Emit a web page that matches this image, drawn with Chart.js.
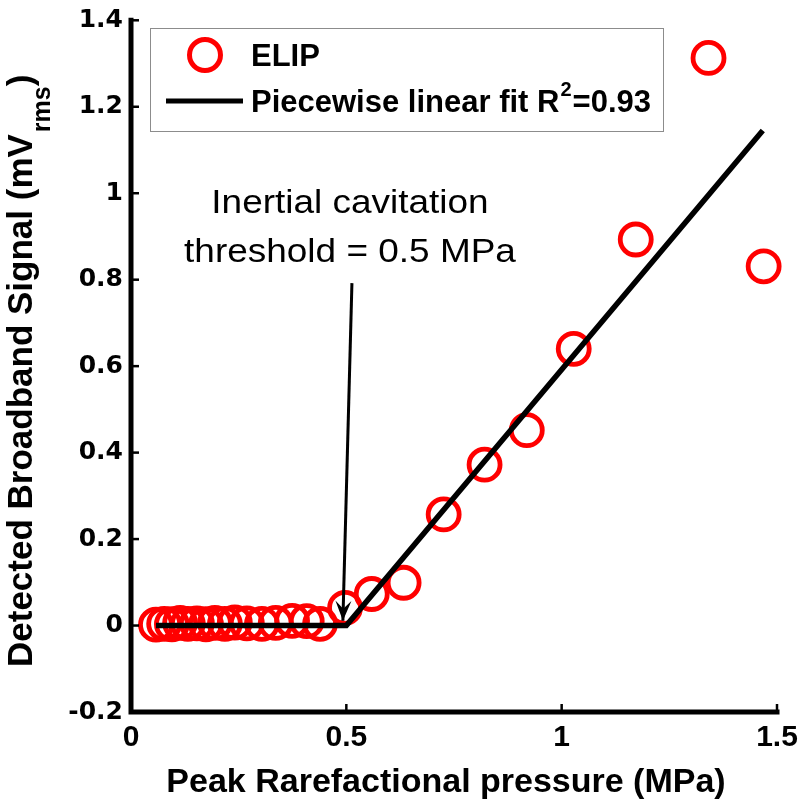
<!DOCTYPE html>
<html>
<head>
<meta charset="utf-8">
<script src="https://cdn.jsdelivr.net/npm/chart.js@4"></script>
<style>
  html, body { margin: 0; padding: 0; background: #fff; }
  #wrap { width: 800px; height: 802px; position: relative; }
</style>
</head>
<body>
<div id="wrap"><canvas id="c" width="800" height="802"></canvas></div>
<script>
// ---- data ----
const pressureMPa = [0.058, 0.077, 0.095, 0.114, 0.132, 0.153, 0.174, 0.195, 0.218, 0.241, 0.269, 0.304, 0.336, 0.374, 0.408, 0.439,
                     0.497, 0.559, 0.633, 0.726, 0.821, 0.919, 1.028, 1.172, 1.341, 1.469];
const signalMV   = [0.002, 0.004, 0.003, 0.006, 0.004, 0.005, 0.003, 0.006, 0.004, 0.007, 0.005, 0.004, 0.006, 0.011, 0.010, 0.004,
                     0.041, 0.073, 0.099, 0.257, 0.372, 0.452, 0.640, 0.893, 1.313, 0.831];
const fitX = [0.058, 0.5, 1.467];
const fitY = [0.0, 0.0, 1.145];
const xTicks = [0, 0.5, 1, 1.5];
const yTicks = [-0.2, 0, 0.2, 0.4, 0.6, 0.8, 1, 1.2, 1.4];
const seriesName = 'ELIP';
const fitName = 'Piecewise linear fit R';
const fitSup = '2';
const fitTail = '=0.93';
const xTitle = 'Peak Rarefactional pressure (MPa)';
const yTitleMain = 'Detected Broadband Signal (mV';
const yTitleSub = 'rms';
const yTitleEnd = ')';
const noteLines = ['Inertial cavitation', 'threshold = 0.5 MPa'];
const arrowFrom = [0.513, 0.792];
const arrowTo = [0.492, 0.011];

const RED = '#ff0000';
const SANS = '"Liberation Sans", Arial, Helvetica, sans-serif';

const decorPlugin = {
  id: 'decor',
  afterDraw(chart) {
    const ctx = chart.ctx;
    const xs = chart.scales.x, ys = chart.scales.y;
    const ca = chart.chartArea;
    ctx.save();
    // axis lines
    ctx.strokeStyle = '#000';
    ctx.lineWidth = 5;
    ctx.lineCap = 'square';
    ctx.beginPath();
    ctx.moveTo(ca.left, ca.top);
    ctx.lineTo(ca.left, ca.bottom);
    ctx.lineTo(ca.right, ca.bottom);
    ctx.stroke();
    ctx.lineCap = 'butt';
    // inward ticks
    ctx.lineWidth = 2.5;
    yTicks.forEach(v => {
      const y = ys.getPixelForValue(v);
      ctx.beginPath(); ctx.moveTo(ca.left, y); ctx.lineTo(ca.left + 8, y); ctx.stroke();
    });
    xTicks.forEach(v => {
      const x = xs.getPixelForValue(v);
      ctx.beginPath(); ctx.moveTo(x, ca.bottom); ctx.lineTo(x, ca.bottom - 8); ctx.stroke();
    });

    // x title
    ctx.fillStyle = '#000';
    ctx.font = 'bold 34px ' + SANS;
    ctx.textAlign = 'center';
    ctx.textBaseline = 'alphabetic';
    ctx.fillText(xTitle, (ca.left + ca.right) / 2 - 8, 792);

    // y title (rotated, with subscript)
    ctx.save();
    ctx.translate(32, 667);
    ctx.rotate(-Math.PI / 2);
    ctx.textAlign = 'left';
    ctx.font = 'bold 35px ' + SANS;
    ctx.fillText(yTitleMain, 0, 0);
    let w = ctx.measureText(yTitleMain).width;
    ctx.font = 'bold 25px ' + SANS;
    ctx.fillText(yTitleSub, w + 2, 18);
    w += 2 + ctx.measureText(yTitleSub).width;
    ctx.font = 'bold 35px ' + SANS;
    ctx.fillText(yTitleEnd, w, 0);
    ctx.restore();

    // legend box
    const lx = 150, ly = 28, lw = 513, lh = 103;
    ctx.fillStyle = '#fff';
    ctx.fillRect(lx, ly, lw, lh);
    ctx.strokeStyle = '#8c8c8c';
    ctx.lineWidth = 1;
    ctx.strokeRect(lx + 0.5, ly + 0.5, lw, lh);
    ctx.strokeStyle = RED;
    ctx.lineWidth = 5;
    ctx.beginPath(); ctx.arc(205, 55, 15.5, 0, Math.PI * 2); ctx.stroke();
    ctx.strokeStyle = '#000';
    ctx.lineWidth = 5;
    ctx.beginPath(); ctx.moveTo(166, 101); ctx.lineTo(243, 101); ctx.stroke();
    ctx.fillStyle = '#000';
    ctx.textAlign = 'left';
    ctx.textBaseline = 'alphabetic';
    ctx.font = 'bold 31px ' + SANS;
    ctx.fillText(seriesName, 251, 66);
    ctx.fillText(fitName, 251, 112);
    let fx = 251 + ctx.measureText(fitName).width + 1;
    ctx.font = 'bold 20px ' + SANS;
    ctx.fillText(fitSup, fx, 96);
    fx += ctx.measureText(fitSup).width + 1;
    ctx.font = 'bold 31px ' + SANS;
    ctx.fillText(fitTail, fx, 112);

    // annotation text
    ctx.save();
    ctx.font = '33px ' + SANS;
    ctx.textAlign = 'center';
    ctx.translate(350, 0);
    ctx.scale(1.12, 1);
    ctx.fillText(noteLines[0], 0, 213);
    ctx.fillText(noteLines[1], 0, 262);
    ctx.restore();

    // arrow
    const x1 = xs.getPixelForValue(arrowFrom[0]), y1 = ys.getPixelForValue(arrowFrom[1]);
    const x2 = xs.getPixelForValue(arrowTo[0]), y2 = ys.getPixelForValue(arrowTo[1]);
    ctx.strokeStyle = '#000';
    ctx.lineWidth = 3;
    ctx.beginPath(); ctx.moveTo(x1, y1); ctx.lineTo(x2, y2); ctx.stroke();
    const ang = Math.atan2(y2 - y1, x2 - x1);
    const L = 20, W = 8;
    ctx.fillStyle = '#000';
    ctx.beginPath();
    ctx.moveTo(x2, y2);
    ctx.lineTo(x2 - L * Math.cos(ang) + W * Math.sin(ang), y2 - L * Math.sin(ang) - W * Math.cos(ang));
    ctx.lineTo(x2 - L * 0.6 * Math.cos(ang), y2 - L * 0.6 * Math.sin(ang));
    ctx.lineTo(x2 - L * Math.cos(ang) - W * Math.sin(ang), y2 - L * Math.sin(ang) + W * Math.cos(ang));
    ctx.closePath();
    ctx.fill();
    ctx.restore();
  }
};

const fmt = v => {
  const r = Math.round(v * 10) / 10;
  return String(r);
};

new Chart(document.getElementById('c'), {
  type: 'scatter',
  data: {
    datasets: [
      {
        label: seriesName,
        data: pressureMPa.map((x, i) => ({ x, y: signalMV[i] })),
        showLine: false,
        pointStyle: 'circle',
        pointRadius: 15.5,
        pointHoverRadius: 15.5,
        pointBorderWidth: 4.8,
        borderColor: RED,
        pointBorderColor: RED,
        backgroundColor: 'rgba(0,0,0,0)',
        pointBackgroundColor: 'rgba(0,0,0,0)',
        clip: false,
        order: 2
      },
      {
        label: fitName + fitSup + fitTail,
        type: 'line',
        data: fitX.map((x, i) => ({ x, y: fitY[i] })),
        borderColor: '#000',
        borderWidth: 5.5,
        pointRadius: 0,
        tension: 0,
        fill: false,
        clip: false,
        order: 1
      }
    ]
  },
  options: {
    responsive: false,
    animation: false,
    events: [],
    layout: { padding: { left: 0, top: 15, right: 23, bottom: 0 } },
    plugins: {
      legend: { display: false },
      tooltip: { enabled: false },
      title: { display: false }
    },
    scales: {
      x: {
        type: 'linear',
        min: 0, max: 1.5,
        afterFit: s => { s.height = 90; s.paddingLeft = 0; s.paddingRight = 0; },
        afterBuildTicks: s => { s.ticks = xTicks.map(v => ({ value: v })); },
        ticks: {
          color: '#000',
          font: { family: SANS, size: 30, weight: 'bold' },
          padding: 8,
          maxRotation: 0,
          callback: fmt
        },
        grid: { display: false, drawTicks: false },
        border: { display: false }
      },
      y: {
        type: 'linear',
        min: -0.2, max: 1.4,
        afterFit: s => { s.width = 131; s.paddingTop = 0; s.paddingBottom = 0; },
        afterBuildTicks: s => { s.ticks = yTicks.map(v => ({ value: v })); },
        ticks: {
          color: '#000',
          font: { family: '"DejaVu Sans", sans-serif', size: 25, weight: 'bold' },
          padding: 8,
          callback: fmt
        },
        grid: { display: false, drawTicks: false },
        border: { display: false }
      }
    }
  },
  plugins: [decorPlugin]
});
</script>
</body>
</html>
